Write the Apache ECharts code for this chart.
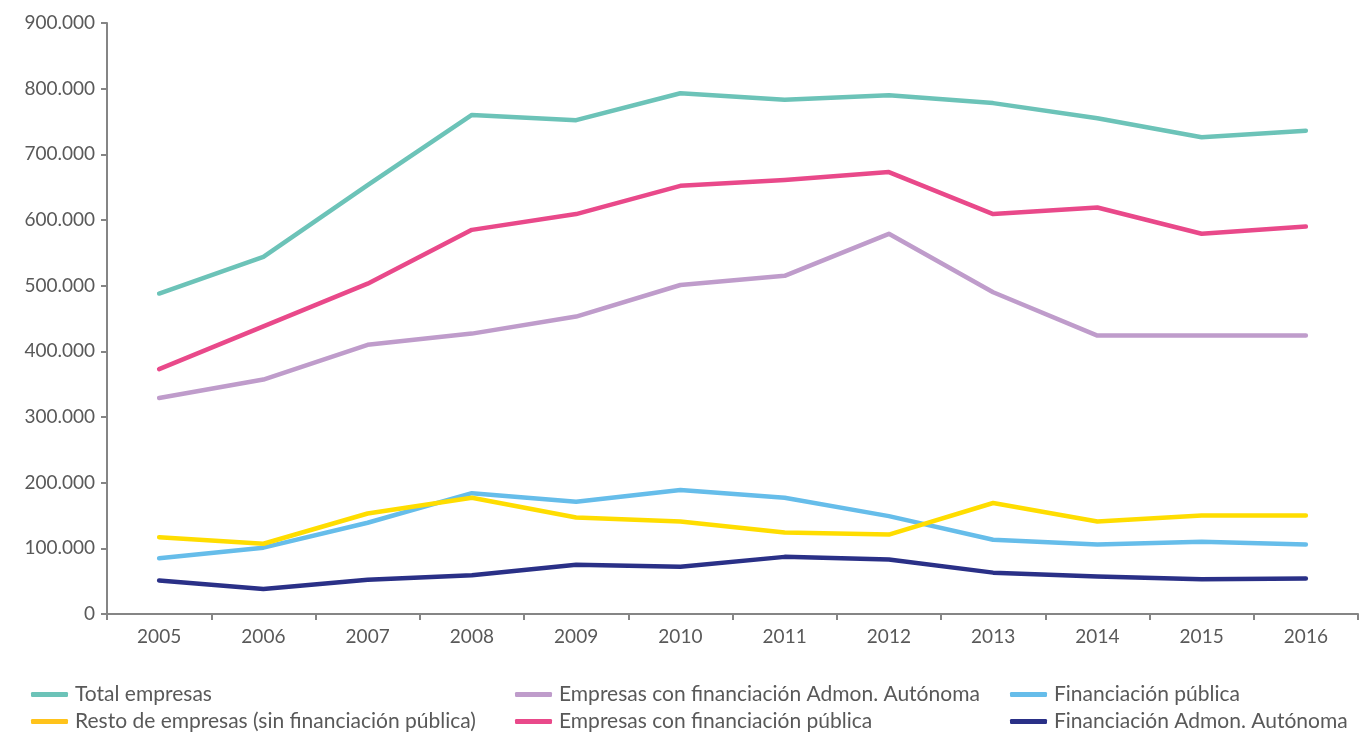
<!DOCTYPE html>
<html><head><meta charset="utf-8">
<script src="https://cdn.jsdelivr.net/npm/echarts@6/dist/echarts.min.js"></script>
<style>html,body{margin:0;padding:0;background:#fff}#c{width:1360px;height:733px}</style>
</head><body><div id="c"></div>
<script>
const years = ['2005','2006','2007','2008','2009','2010','2011','2012','2013','2014','2015','2016'];
const totalEmpresas = [488000,544000,653000,760000,752000,793000,783000,790000,778000,755000,726000,736000];
const conAdmonAutonoma = [329000,357000,410000,427000,453000,501000,515000,579000,490000,424000,424000,424000];
const financiacionPublica = [85000,101000,139000,184000,171000,189000,177000,149000,113000,106000,110000,106000];
const restoEmpresas = [117000,107000,153000,177000,147000,141000,124000,121000,169000,141000,150000,150000];
const conFinanciacionPublica = [373000,438000,503000,585000,609000,652000,661000,673000,609000,619000,579000,590000];
const financiacionAdmonAutonoma = [51000,38000,52000,59000,75000,72000,87000,83000,63000,57000,53000,54000];

const names = ['Total empresas','Empresas con financiación Admon. Autónoma','Financiación pública','Resto de empresas (sin financiación pública)','Empresas con financiación pública','Financiación Admon. Autónoma'];
const colors = ['#6cc3b8','#bf9ccb','#66bdea','#ffdd00','#e9498a','#2a3087'];
const legendColors = ['#6cc3b8','#bf9ccb','#66bdea','#ffc31b','#e9498a','#2a3087'];
const dataSets = [totalEmpresas, conAdmonAutonoma, financiacionPublica, restoEmpresas, conFinanciacionPublica, financiacionAdmonAutonoma];

const font = 'Lato';
function fmt(v){ return v === 0 ? '0' : String(v).replace(/\B(?=(\d{3})+(?!\d))/g, '.'); }

const legendLeft = [26, 510, 1005, 26, 510, 1005];
const legendTop = [679, 679, 679, 706, 706, 706];
const legends = names.map((n,i) => ({
  left:legendLeft[i], top:legendTop[i], itemWidth:37, itemHeight:5, icon:'roundRect', itemGap:0,
  textStyle:{fontFamily:font, fontSize:21, color:'#595959', padding:[0,0,0,2]},
  data:[{name:n, itemStyle:{color:legendColors[i]}}]
}));

const chart = echarts.init(document.getElementById('c'));
chart.setOption({
  animation:false,
  grid:{left:107, right:2, top:23, bottom:119},
  legend:legends,
  xAxis:{
    type:'category', data:years, boundaryGap:true,
    axisLine:{lineStyle:{color:'#858585', width:2}},
    axisTick:{show:true, length:6, lineStyle:{color:'#858585', width:2}},
    axisLabel:{fontFamily:font, fontSize:19, color:'#595959', margin:13}
  },
  yAxis:{
    type:'value', min:0, max:900000, interval:100000,
    splitLine:{show:false},
    axisLine:{show:true, lineStyle:{color:'#858585', width:2}},
    axisTick:{show:true, length:6, lineStyle:{color:'#858585', width:2}},
    axisLabel:{fontFamily:font, fontSize:19, color:'#595959', margin:12, formatter:fmt}
  },
  series: names.map((n,i) => ({
    name:n, type:'line', data:dataSets[i], symbol:'none',
    lineStyle:{color:colors[i], width:4.5, cap:'round', join:'round'},
    itemStyle:{color:colors[i]}
  }))
});
</script></body></html>
